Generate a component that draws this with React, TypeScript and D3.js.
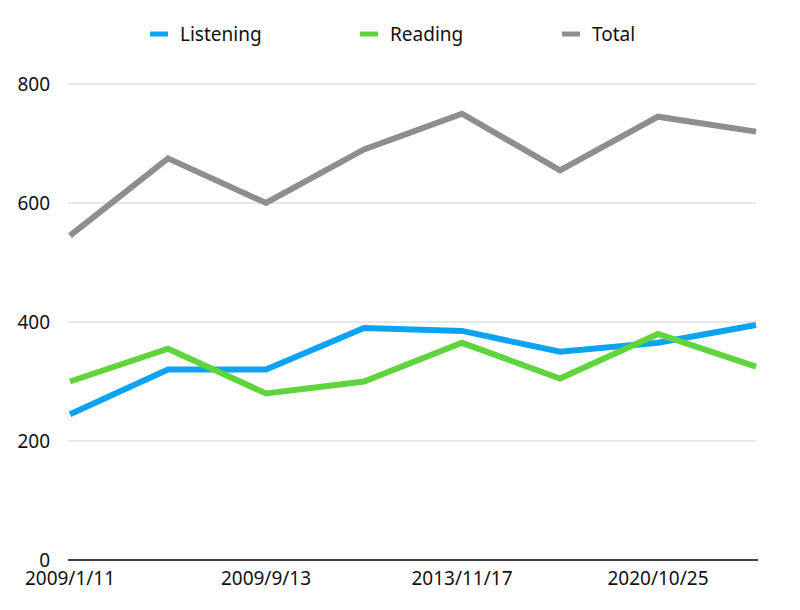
import * as d3 from 'd3'

const labels = ['2009/1/11', '', '2009/9/13', '', '2013/11/17', '', '2020/10/25', '']
const listening = [245, 320, 320, 390, 385, 350, 365, 395]
const reading = [300, 355, 280, 300, 365, 305, 380, 325]
const total = [545, 675, 600, 690, 750, 655, 745, 720]
const yTicks = [0, 200, 400, 600, 800]

const series = [
  { name: 'Listening', values: listening, color: '#0ea3f2', lx: 150 },
  { name: 'Reading', values: reading, color: '#5fd43c', lx: 360 },
  { name: 'Total', values: total, color: '#8e8e8e', lx: 562 },
]

export default function App() {
  const x = d3.scalePoint<number>().domain(labels.map((_, i) => i)).range([70, 756])
  const y = d3.scaleLinear().domain([0, 800]).range([560, 84])
  const line = (vals: number[]) =>
    d3.line<number>().x((_, i) => x(i)!).y((d) => y(d))(vals) || ''
  const font = '"Noto Sans", sans-serif'
  return (
    <svg width={800} height={610} style={{ position: 'absolute', left: 0, top: 0 }} fontFamily={font}>
      <rect width={800} height={610} fill="#fff" />
      {yTicks.map((t) => (
        <g key={t}>
          {t > 0 && <line x1={68} x2={756} y1={y(t)} y2={y(t)} stroke="#cfcfcf" strokeWidth={1} />}
          <text x={50} y={y(t)} dy="0.35em" textAnchor="end" fontSize={19} fill="#111">
            {t}
          </text>
        </g>
      ))}
      <line x1={68} x2={758} y1={560} y2={560} stroke="#000" strokeWidth={1.5} />
      {labels.map((l, i) =>
        l ? (
          <text key={i} x={x(i)} y={585} textAnchor="middle" fontSize={19} fill="#111">
            {l}
          </text>
        ) : null
      )}
      {series.map((s) => (
        <path key={s.name} d={line(s.values)} fill="none" stroke={s.color} strokeWidth={6} strokeLinejoin="miter" />
      ))}
      {series.map((s) => (
        <g key={s.name}>
          <line x1={s.lx} x2={s.lx + 18} y1={34} y2={34} stroke={s.color} strokeWidth={5} />
          <text x={s.lx + 30} y={34} dy="0.35em" fontSize={19} fill="#111">
            {s.name}
          </text>
        </g>
      ))}
    </svg>
  )
}
